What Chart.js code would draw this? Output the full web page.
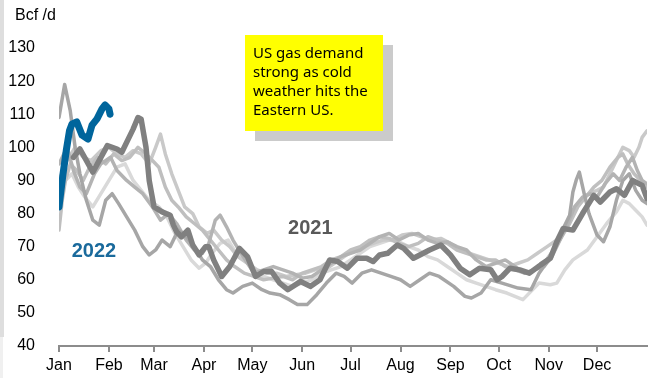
<!DOCTYPE html>
<html>
<head>
<meta charset="utf-8">
<script src="https://cdn.jsdelivr.net/npm/chart.js@4"></script>
<style>
  html, body { margin: 0; padding: 0; background: #fff; }
  #wrap { position: relative; width: 651px; height: 378px; overflow: hidden; }
  #edge { position: absolute; left: 0; top: 0; width: 4px; height: 337px; background: #dedede; }
  #edge2 { position: absolute; left: 0; top: 337px; width: 3px; height: 41px; background: #f0f0f0; }
  #note {
    position: absolute; left: 245px; top: 35px; width: 130px; height: 88px;
    padding: 8px 0 0 8px; background: #ffff00; box-shadow: 10px 10px 0 #cbcbcb;
    font-family: "Comic Sans MS", "Noto Sans", sans-serif; font-size: 15px; line-height: 19px; color: #000;
  }
  canvas { position: absolute; left: 0; top: 0; }
</style>
</head>
<body>
<div id="wrap">
  <div id="edge"></div><div id="edge2"></div>
  <canvas id="demandChart" width="651" height="378"></canvas>
  <div id="note">US gas demand strong as cold weather hits the Eastern US.</div>
</div>
<script>
// 월 눈금 (연중 일수 기준)
const monthDays = [0, 31, 59, 90, 120, 151, 181, 212, 243, 273, 304, 334];
const monthLabels = ['Jan', 'Feb', 'Mar', 'Apr', 'May', 'Jun', 'Jul', 'Aug', 'Sep', 'Oct', 'Nov', 'Dec'];

// 2022 (파란 굵은 선)
const days2022 = [0, 1, 2.5, 4.5, 6.5, 8, 11, 14.3, 18, 20.5, 23.6, 26.7, 28.6, 31, 31.7];
const vals2022 = [82, 86, 92, 99, 105, 107, 107.7, 103.7, 102.5, 106.7, 108.6, 111.6, 112.8, 111.6, 110];

// 2021 (진한 회색 선)
const days2021 = [9, 13, 21, 30, 36, 39, 46, 49, 51, 54, 56, 59, 64, 69, 71, 73, 76, 80, 83, 87, 91, 93, 96, 101, 106, 112, 117, 122, 127, 132, 137, 142, 150, 156, 162, 168, 173, 179, 185, 191, 195, 199, 204, 210, 214, 220, 224, 230, 237, 243, 249, 255, 261, 268, 272, 275, 280, 286, 292, 299, 305, 309, 313, 319, 325, 332, 336, 342, 346, 351, 356, 362, 365];
const vals2021 = [97, 99.5, 92.5, 100.5, 99.5, 98.5, 105.5, 109, 108.5, 100, 90, 82, 80.5, 79.5, 76.5, 74.5, 73, 75, 70.5, 67.5, 70, 70, 66, 61, 64, 69.5, 67, 61, 62.5, 62.5, 59, 57, 59.5, 58, 60, 66, 65.5, 63.5, 66.5, 66.5, 65.5, 67.5, 68, 70.5, 69.5, 66.5, 67.5, 69, 70.5, 67.5, 63.5, 61.5, 63.5, 63, 60, 61, 63.5, 63, 62, 64.5, 66.5, 71.5, 75.5, 75, 80, 85.5, 83.5, 86.5, 87.5, 85.5, 90, 88.5, 84.5];

// 이전 연도들 (회색 선)
const daysA = [0, 3.5, 7, 10, 13, 17, 21, 25, 29, 33, 37, 42, 47, 52, 56, 60, 64, 69, 74, 79, 84, 89, 94, 99, 104, 108, 114, 120, 126, 131, 137, 143, 148, 154, 160, 166, 172, 177, 182, 188, 194, 200, 206, 212, 218, 224, 230, 236, 245, 252, 256, 262, 268, 275, 285, 293, 298, 306, 312, 317, 319, 321, 323, 326, 329, 334, 338, 342, 346, 350, 354, 358, 362, 365];
const valsA = [109, 119, 111, 100, 92, 84, 78, 76.5, 84, 86, 83, 79, 75, 70, 67.5, 69, 72, 70, 75, 73, 70, 66, 64, 60, 57, 56, 58, 59, 57, 56, 55.5, 54, 52.5, 52.5, 55.5, 59, 62, 61, 59, 62, 63, 62, 61, 60, 58, 60, 62, 61, 58, 55, 54.5, 56, 60, 59, 57.5, 57, 62, 67.5, 74.5, 79.5, 86.5, 90, 92.5, 86, 80, 73.5, 71.5, 76, 84, 90, 92, 87, 84, 83];

const daysB = [0, 5, 10, 15, 20, 26, 31, 36, 41, 46, 51, 56, 60, 63, 66, 70, 74, 78, 83, 87, 92, 96, 101, 106, 111, 117, 123, 129, 135, 141, 147, 153, 159, 165, 171, 177, 183, 189, 195, 201, 207, 213, 219, 225, 231, 237, 243, 249, 255, 261, 267, 273, 279, 285, 291, 297, 303, 309, 314, 319, 324, 329, 334, 338, 342, 346, 350, 354, 357, 360, 362, 365];
const valsB = [90, 96, 100, 97, 96, 99, 100, 98, 97, 99, 98, 95, 100, 104, 98, 92, 87, 82, 80, 76, 74, 75, 72, 70, 67, 65, 63, 62, 62, 61, 61.5, 62, 63, 63, 65, 67, 69, 70, 71, 72, 72, 73.5, 74, 73, 72, 72.5, 71, 69, 68, 67, 66, 65, 64, 65, 66, 68, 70, 72, 76, 80, 84, 86, 87, 88, 92, 96, 100, 99, 97, 100, 103, 105];

const daysC = [0, 2, 4, 7, 11, 15, 19, 24, 29, 34, 39, 44, 49, 54, 58, 62, 66, 70, 74, 79, 84, 89, 94, 99, 104, 109, 115, 121, 127, 133, 139, 145, 151, 157, 163, 169, 175, 181, 187, 193, 199, 205, 211, 217, 223, 229, 235, 241, 247, 253, 259, 265, 271, 277, 283, 289, 295, 301, 307, 312, 317, 322, 327, 332, 337, 342, 347, 350, 353, 357, 361, 365];
const valsC = [75, 84, 90, 95, 93, 90, 94, 97, 95, 98, 96, 97, 100, 98, 96, 94, 88, 84, 82, 79, 77, 75, 72, 69, 66, 64, 62, 61, 60, 60.5, 61, 60, 62, 63, 64, 66, 67, 69, 70, 72, 73, 72.5, 71, 70, 71, 73, 72, 71, 69, 68, 67, 66, 66, 64, 63, 62, 63, 65, 69, 73, 77, 82, 85, 88, 90, 94, 97, 98, 95, 92, 90, 88];

const daysD = [0, 4, 8, 12, 16, 21, 26, 31, 36, 41, 46, 51, 56, 62, 67, 72, 77, 82, 87, 91, 95, 100, 105, 110, 115, 121, 127, 133, 139, 145, 151, 157, 163, 169, 175, 181, 187, 193, 199, 205, 211, 217, 223, 229, 235, 241, 247, 253, 259, 265, 271, 278, 288, 298, 305, 309, 314, 319, 328, 334, 340, 346, 350, 354, 358, 362, 365];
const valsD = [85, 90, 92, 88, 85, 82, 86, 90, 94, 95, 90, 87, 84, 82, 79, 74, 70, 66, 63.5, 65, 68, 71, 72, 68, 66, 63, 61, 60, 59, 58, 59, 60, 62, 63, 64, 66, 68, 70, 71, 72, 71.5, 70, 69, 67, 66, 64, 62, 60, 59, 58, 57, 56, 54, 59, 58.5, 59, 63, 66, 69, 73, 77, 80.5, 84, 83, 81, 79, 76.5];

const daysE = [0, 5, 9, 13, 17, 22, 26, 32, 36, 42, 47, 52, 58, 63, 68, 73, 79, 84, 89, 93, 97, 100, 104, 108, 113, 117, 121, 127, 133, 139, 145, 151, 157, 163, 169, 175, 181, 187, 193, 199, 205, 211, 217, 223, 229, 235, 241, 247, 253, 259, 265, 271, 277, 283, 289, 295, 301, 306, 311, 316, 320, 325, 330, 334, 339, 344, 348, 352, 356, 359, 362, 365];
const valsE = [95, 100, 93, 88, 86, 92, 95, 97, 93, 90, 88, 86, 82, 78, 80, 77, 72, 69, 68, 71, 78, 79.5, 76, 72, 68, 65, 62, 63, 64, 63, 62, 60.5, 61, 63, 65, 67, 68, 69, 71, 73, 74, 72, 73.5, 74, 72, 71, 71.5, 70, 69, 66, 64, 65, 66, 64, 62, 63, 64, 67, 72, 77, 82, 85, 86, 85, 89, 92, 90, 94, 97, 93, 90, 89];

function pts(days, vals) {
    return days.map((d, i) => ({ x: d, y: vals[i] }));
}

function line(data, color, width) {
    return {
        data: data,
        borderColor: color,
        borderWidth: width,
        pointRadius: 0,
        fill: false,
        tension: 0,
        borderCapStyle: 'round',
        borderJoinStyle: 'round'
    };
}

// 연도 라벨과 단위
const labelPlugin = {
    id: 'yearLabels',
    afterDatasetsDraw(chart) {
        const ctx = chart.ctx;
        const x = chart.scales.x, y = chart.scales.y;
        ctx.save();
        ctx.textAlign = 'center';
        ctx.textBaseline = 'middle';
        ctx.font = 'bold 20px "Liberation Sans", Arial, sans-serif';
        ctx.fillStyle = '#595959';
        ctx.fillText('2021', x.getPixelForValue(156), y.getPixelForValue(75.6));
        ctx.fillStyle = '#1a6a9c';
        ctx.fillText('2022', x.getPixelForValue(21.7), y.getPixelForValue(68.4));
        ctx.textAlign = 'left';
        ctx.font = '16px "Liberation Sans", Arial, sans-serif';
        ctx.fillStyle = '#000';
        ctx.fillText('Bcf /d', 15, 16);
        ctx.restore();
    }
};

const tickFont = { family: '"Liberation Sans", Arial, sans-serif', size: 16 };

const ctx = document.getElementById('demandChart').getContext('2d');
const demandChart = new Chart(ctx, {
    type: 'line',
    data: {
        datasets: [
            line(pts(days2022, vals2022), '#00659c', 7),
            line(pts(days2021, vals2021), '#808080', 5.5),
            line(pts(daysA, valsA), '#a6a6a6', 3.5),
            line(pts(daysE, valsE), '#b3b3b3', 3.5),
            line(pts(daysC, valsC), '#bfbfbf', 3.5),
            line(pts(daysB, valsB), '#c9c9c9', 3.5),
            line(pts(daysD, valsD), '#d9d9d9', 3.5)
        ]
    },
    options: {
        responsive: false,
        animation: false,
        layout: { padding: { top: 48, right: 4, bottom: 0, left: 0 } },
        plugins: { legend: { display: false }, tooltip: { enabled: false } },
        scales: {
            x: {
                type: 'linear',
                min: 0,
                max: 365,
                afterBuildTicks: (scale) => { scale.ticks = monthDays.map(v => ({ value: v })); },
                afterFit: (scale) => { scale.height = 32; },
                ticks: {
                    autoSkip: false,
                    maxRotation: 0,
                    padding: 4,
                    color: '#000',
                    font: tickFont,
                    callback: (v) => monthLabels[monthDays.indexOf(v)]
                },
                grid: { drawOnChartArea: false, drawTicks: true, tickLength: 6, color: '#8c8c8c', lineWidth: 2 },
                border: { display: true, color: '#8c8c8c', width: 2 }
            },
            y: {
                min: 40,
                max: 130,
                afterFit: (scale) => { scale.width = 59; },
                ticks: { stepSize: 10, padding: 16, color: '#000', font: tickFont },
                grid: { display: false },
                border: { display: false }
            }
        }
    },
    plugins: [labelPlugin]
});
</script>
</body>
</html>
